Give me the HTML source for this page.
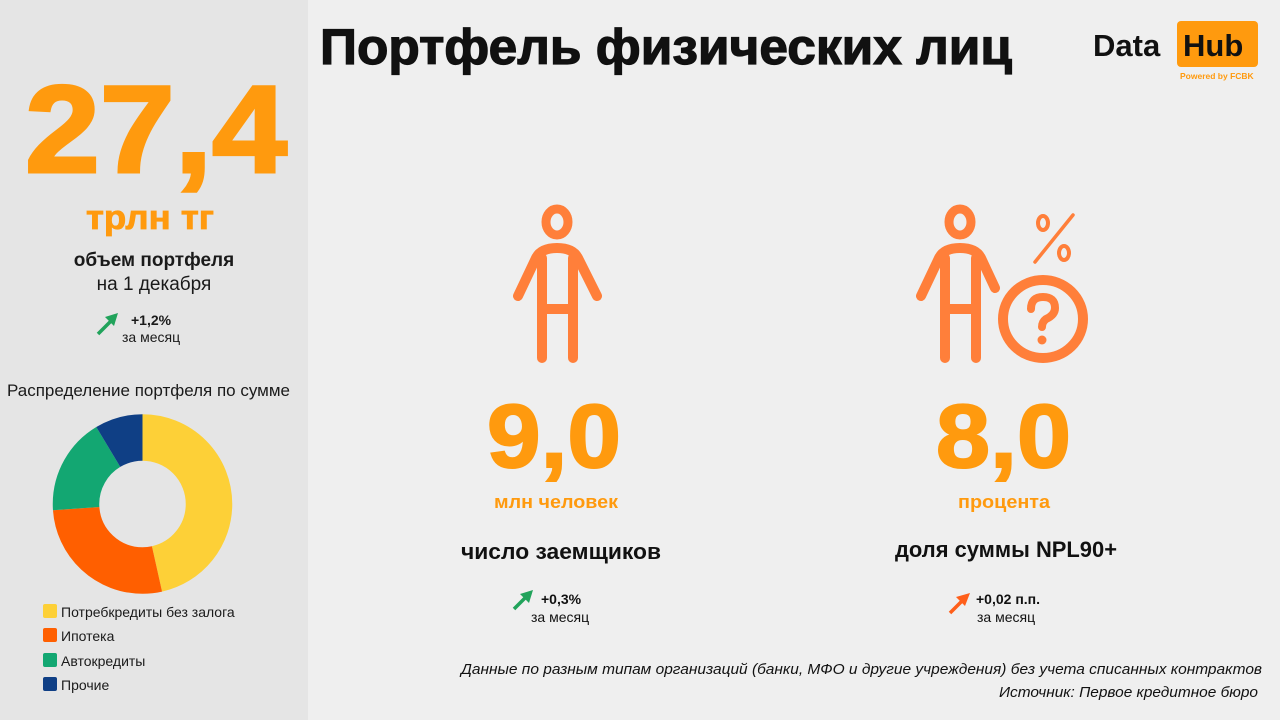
<!DOCTYPE html>
<html><head><meta charset="utf-8"><style>
html,body{margin:0;padding:0;}
body{width:1280px;height:720px;background:#efefef;overflow:hidden;}
svg{display:block;}
text{font-family:"Liberation Sans","DejaVu Sans",sans-serif;}
</style></head><body>
<svg width="1280" height="720" viewBox="0 0 1280 720" xmlns="http://www.w3.org/2000/svg">
<rect x="0" y="0" width="1280" height="720" fill="#efefef"/>
<rect x="0" y="0" width="308" height="720" fill="#e5e5e5"/>
<text x="25" y="172" font-size="124" font-weight="bold" fill="#ff9a0e" stroke="#ff9a0e" stroke-width="3" textLength="262" lengthAdjust="spacingAndGlyphs">27,4</text>
<text x="86" y="229" font-size="34" font-weight="bold" fill="#ff9a0e" stroke="#ff9a0e" stroke-width="0.8" textLength="128" lengthAdjust="spacingAndGlyphs">трлн тг</text>
<text x="154" y="266" font-size="19" font-weight="bold" fill="#1a1a1a" text-anchor="middle">объем портфеля</text>
<text x="154" y="290" font-size="19" fill="#1a1a1a" text-anchor="middle">на 1 декабря</text>
<line x1="98" y1="334" x2="112" y2="320" stroke="#21a35b" stroke-width="3.5"/>
<polygon points="118,313 105,317 114,326" fill="#21a35b"/>
<text x="131" y="325" font-size="14" font-weight="bold" fill="#1a1a1a">+1,2%</text>
<text x="122" y="342" font-size="14" fill="#1a1a1a">за месяц</text>
<text x="7" y="396" font-size="17" fill="#1a1a1a">Распределение портфеля по сумме</text>
<g transform="rotate(-90 142.5 504)" fill="none" stroke-width="46.5">
<circle cx="142.5" cy="504" r="66.5" stroke="#fdd037" stroke-dasharray="194.2 1000" stroke-dashoffset="0"/>
<circle cx="142.5" cy="504" r="66.5" stroke="#ff5f00" stroke-dasharray="114.4 1000" stroke-dashoffset="-194.2"/>
<circle cx="142.5" cy="504" r="66.5" stroke="#13a772" stroke-dasharray="73.1 1000" stroke-dashoffset="-308.6"/>
<circle cx="142.5" cy="504" r="66.5" stroke="#0f3f85" stroke-dasharray="36.2 1000" stroke-dashoffset="-381.7"/>
</g>
<rect x="43" y="604" width="14" height="14" rx="2" fill="#fdd037"/>
<rect x="43" y="628" width="14" height="14" rx="2" fill="#ff5f00"/>
<rect x="43" y="653" width="14" height="14" rx="2" fill="#13a772"/>
<rect x="43" y="677" width="14" height="14" rx="2" fill="#0f3f85"/>
<text x="61" y="617" font-size="14" fill="#1a1a1a">Потребкредиты без залога</text>
<text x="61" y="641" font-size="14" fill="#1a1a1a">Ипотека</text>
<text x="61" y="666" font-size="14" fill="#1a1a1a">Автокредиты</text>
<text x="61" y="690" font-size="14" fill="#1a1a1a">Прочие</text>
<text x="320" y="64" font-size="50" font-weight="bold" fill="#111" stroke="#111" stroke-width="1.2" textLength="692" lengthAdjust="spacingAndGlyphs">Портфель физических лиц</text>
<rect x="1177" y="21" width="81" height="46" rx="4" fill="#ff9a0e"/>
<text x="1093" y="56" font-size="31" font-weight="bold" fill="#111">Data</text>
<text x="1183" y="56" font-size="31" font-weight="bold" fill="#111">Hub</text>
<text x="1180" y="79" font-size="8.5" font-weight="bold" fill="#ff9a0e">Powered by FCBK</text>
<g fill="none" stroke="#ff7f3a" stroke-linecap="round" stroke-linejoin="round">
<g>
<ellipse cx="557" cy="222" rx="11" ry="13" stroke-width="9"/>
<path d="M542 358 V258 M573 358 V258 M542 309 H573" stroke-width="10"/>
<path d="M518 296 L536 258 Q541 248 557 248 Q573 248 578 258 L597 296" stroke-width="10"/>
</g>
<g transform="translate(403 0)">
<ellipse cx="557" cy="222" rx="11" ry="13" stroke-width="9"/>
<path d="M542 358 V258 M573 358 V258 M542 309 H573" stroke-width="10"/>
<path d="M518 296 L536 258 Q541 248 557 248 Q573 248 578 258 L592 288" stroke-width="10"/>
</g>
<ellipse cx="1043" cy="319" rx="40" ry="39" stroke-width="10"/>
<path d="M1031 309 Q1031 297 1043 297 Q1055 297 1055 308 Q1055 315 1046 319 Q1042 322 1042 327" stroke-width="8"/>
<ellipse cx="1043" cy="223" rx="5" ry="7" stroke-width="4"/>
<ellipse cx="1064" cy="253" rx="5" ry="7" stroke-width="4"/>
<path d="M1073 215 L1035 262" stroke-width="3.5"/>
</g>
<circle cx="1042" cy="340" r="4.5" fill="#ff7f3a"/>
<text x="487" y="467" font-size="90" font-weight="bold" fill="#ff9a0e" stroke="#ff9a0e" stroke-width="2" textLength="134" lengthAdjust="spacingAndGlyphs">9,0</text>
<text x="494" y="508" font-size="18" font-weight="bold" fill="#ff9a0e" textLength="124" lengthAdjust="spacingAndGlyphs">млн человек</text>
<text x="461" y="559" font-size="22" font-weight="bold" fill="#111" textLength="200" lengthAdjust="spacingAndGlyphs">число заемщиков</text>
<line x1="514" y1="609" x2="527" y2="596" stroke="#21a35b" stroke-width="3.5"/>
<polygon points="533,590 520,594 529,603" fill="#21a35b"/>
<text x="541" y="604" font-size="14" font-weight="bold" fill="#111">+0,3%</text>
<text x="531" y="622" font-size="14" fill="#111">за месяц</text>
<text x="936" y="467" font-size="90" font-weight="bold" fill="#ff9a0e" stroke="#ff9a0e" stroke-width="2" textLength="135" lengthAdjust="spacingAndGlyphs">8,0</text>
<text x="958" y="508" font-size="18" font-weight="bold" fill="#ff9a0e" textLength="92" lengthAdjust="spacingAndGlyphs">процента</text>
<text x="895" y="557" font-size="22" font-weight="bold" fill="#111" textLength="222" lengthAdjust="spacingAndGlyphs">доля суммы NPL90+</text>
<line x1="950" y1="613" x2="963" y2="600" stroke="#ff5f1a" stroke-width="3.5"/>
<polygon points="970,593 956,597 965,606" fill="#ff5f1a"/>
<text x="976" y="604" font-size="14" font-weight="bold" fill="#111">+0,02 п.п.</text>
<text x="977" y="622" font-size="14" fill="#111">за месяц</text>
<text x="461" y="674" font-size="15" font-style="italic" fill="#111" textLength="801" lengthAdjust="spacingAndGlyphs">Данные по разным типам организаций (банки, МФО и другие учреждения) без учета списанных контрактов</text>
<text x="999" y="697" font-size="15" font-style="italic" fill="#111" textLength="259" lengthAdjust="spacingAndGlyphs">Источник: Первое кредитное бюро</text>
</svg>
</body></html>
